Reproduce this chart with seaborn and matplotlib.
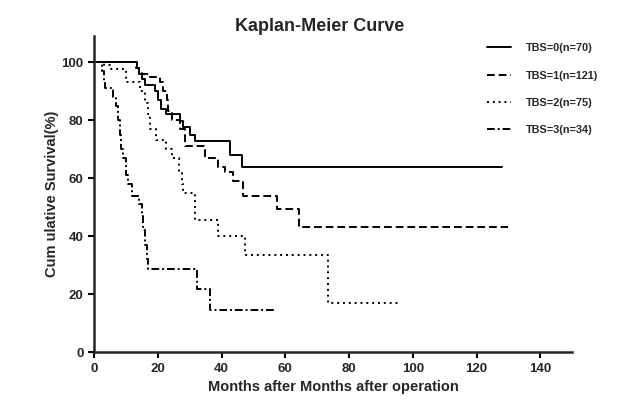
import pandas as pd
import matplotlib
matplotlib.use("Agg")
import matplotlib.pyplot as plt
import seaborn as sns

# step points (months, survival %)
t0 = [0, 13.4, 14.2, 15.0, 16.0, 19.0, 20.0, 21.0, 22.5, 27.0, 28.0, 30.0, 31.7, 42.6, 46.3, 128]
s0 = [100, 98, 96, 94, 92, 90, 87, 84, 82, 79.7, 77.5, 75, 72.8, 68, 64, 64]

t1 = [0, 13.0, 14.0, 15.0, 17.5, 20.7, 21.7, 22.8, 23.2, 24.4, 27.0, 28.5, 34.8, 38.9, 41.0, 43.6, 46.7, 57.3, 64.3, 130]
s1 = [100, 98, 97, 96, 95, 93, 90, 87, 83, 80, 77, 71, 67, 64, 62, 59, 54, 49.5, 43, 43]

t2 = [0, 3.0, 5.0, 10.0, 14.5, 16.0, 17.0, 17.5, 19.5, 22.5, 24.5, 26.5, 27.5, 28.0, 31.7, 39.0, 47.3, 73.4, 95.3]
s2 = [100, 99, 97.5, 93, 90, 86, 82, 77, 73, 70, 67, 62, 58, 55, 45.5, 40, 33.5, 17, 17]

t3 = [0, 2.5, 3.0, 3.5, 6.0, 7.0, 7.5, 8.0, 8.5, 9.0, 10.0, 10.5, 12.0, 14.0, 15.0, 15.5, 16.0, 16.5, 17.0, 32.3, 36.4, 56.7]
s3 = [100, 97, 93, 91, 88, 85, 80, 75, 70, 67, 61, 58, 54, 51, 47, 42, 37, 32, 28.5, 21.8, 14.5, 14.5]

groups = ["TBS=0(n=70)", "TBS=1(n=121)", "TBS=2(n=75)", "TBS=3(n=34)"]

rows = []
for g, t, s in zip(groups, [t0, t1, t2, t3], [s0, s1, s2, s3]):
    for ti, si in zip(t, s):
        rows.append({"group": g, "time": ti, "surv": si})
df = pd.DataFrame(rows)

sns.set_style("ticks")
plt.rcParams['font.family'] = ['Liberation Sans', 'DejaVu Sans']
plt.rcParams['font.weight'] = 'bold'

fig = plt.figure(figsize=(6.4, 4.09), dpi=100)
ax = fig.add_axes([0.147, 0.139, 0.747, 0.773])

dash_styles = ["", (4, 2), (1, 2), (4, 1.5, 1, 1.5)]
sns.lineplot(data=df, x="time", y="surv", hue="group", style="group",
             palette=["black"] * 4, dashes=dash_styles, drawstyle="steps-post",
             estimator=None, sort=False, linewidth=1.4, ax=ax)

ax.set_xlim(0, 150)
ax.set_ylim(0, 109)
ax.set_xticks(range(0, 141, 20))
ax.set_yticks(range(0, 101, 20))
for lab in ax.get_xticklabels() + ax.get_yticklabels():
    lab.set_fontweight('bold')
ax.tick_params(labelsize=9.5, width=1.5, length=4, color='black')
for sp in ["left", "bottom"]:
    ax.spines[sp].set_linewidth(1.8)
sns.despine(ax=ax)

ax.set_xlabel("Months after Months after operation", fontsize=10.5, fontweight='bold')
ax.set_ylabel("Cum ulative Survival(%)", fontsize=10.5, fontweight='bold', labelpad=2)
fig.suptitle("Kaplan-Meier Curve", x=0.5, y=0.955, fontsize=13, fontweight='bold')

handles, labels = ax.get_legend_handles_labels()
leg = ax.legend(handles, labels, loc="upper left", bbox_to_anchor=(0.745, 0.918),
                bbox_transform=fig.transFigure, frameon=False, fontsize=7.8,
                handlelength=2.3, labelspacing=1.6, handletextpad=1.3)
for txt in leg.get_texts():
    txt.set_fontweight('bold')

fig.savefig("out.png", dpi=100)
